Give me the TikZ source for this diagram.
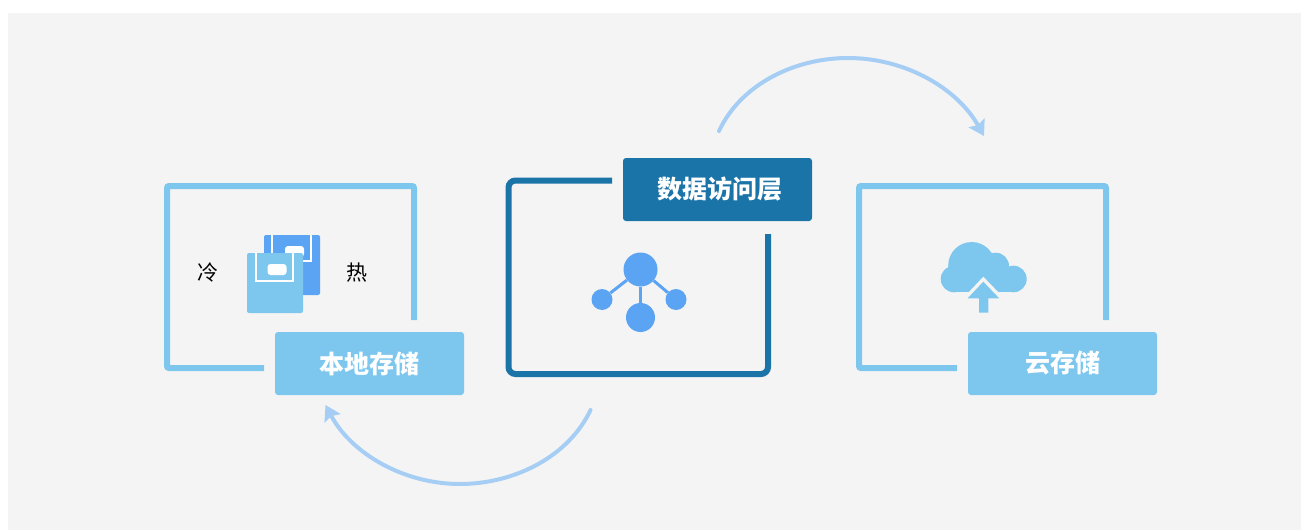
\documentclass[tikz,border=0pt]{standalone}
\usepackage{fontspec}
\setmainfont{Noto Sans CJK SC}
\usetikzlibrary{arrows.meta}
\definecolor{pagebg}{HTML}{F4F4F4}
\definecolor{sky}{HTML}{7DC7EE}
\definecolor{deep}{HTML}{1A74A8}
\definecolor{azure}{HTML}{5BA4F3}
\definecolor{arcblue}{HTML}{A6CEF5}
\tikzset{
  x=1pt,y=-1pt,
  tag/.style={rounded corners=3pt,minimum width=189pt,minimum height=63pt,inner sep=0pt,text=white,font=\fontsize{25}{25}\selectfont\bfseries},
  skytag/.style={tag,fill=sky},
  deeptag/.style={tag,fill=deep},
  skyframe/.style={draw=sky,line width=6pt,rounded corners=2pt},
  deepframe/.style={draw=deep,line width=6pt,rounded corners=7pt},
  flow/.style={draw=arcblue,line width=4pt,-{Stealth[length=15pt,width=18pt,inset=2.5pt]}},
  heat/.style={text=black,inner sep=0pt,font=\fontsize{21}{21}\selectfont},
  pill/.style={fill=white,rounded corners=3pt},
  disk/.style={rounded corners=2pt},
  hub/.style={fill=azure,circle,inner sep=0pt},
  spoke/.style={draw=azure,line width=3pt},
}
\begin{document}
\begin{tikzpicture}
\useasboundingbox (0,0) rectangle (1301,530);
\fill[white] (0,0) rectangle (1301,530);
\fill[pagebg] (8,13) rectangle (1301,530);

% left frame
\path[skyframe] (264,368) -- (167,368) -- (167,186) -- (414,186) -- (414,320);
\node[skytag] (local) at (369.5,363.5) {本地存储};
% right frame
\path[skyframe] (957,368) -- (859,368) -- (859,186) -- (1106,186) -- (1106,320);
\node[skytag] (cloud) at (1062.5,363.5) {云存储};
% centre frame
\path[deepframe] (612,180.5) -- (508.5,180.5) -- (508.5,374) -- (768,374) -- (768,234);
\node[deeptag] (access) at (717.5,189.5) {\hspace{4pt}数据访问层};

% cold / hot
\node[heat] (cold) at (207.5,273) {冷};
\node[heat] (hot) at (356.5,273) {热};

% floppy icons
\fill[azure,disk] (264,235) rectangle (320,295);
\draw[white,line width=2pt] (272,235) -- (272,261) -- (311,261) -- (311,235);
\fill[pill] (285,246) rectangle (304,257);
\fill[sky,disk] (247,253) rectangle (303,313);
\draw[white,line width=2pt] (255.5,253) -- (255.5,280.5) -- (292.5,280.5) -- (292.5,253);
\fill[pill] (267.5,264) rectangle (286.5,275);

% hub icon
\node[hub,minimum size=34pt] (hubtop) at (640.5,269.5) {};
\node[hub,minimum size=21pt] (hubleft) at (602,299.5) {};
\node[hub,minimum size=21pt] (hubright) at (676,299.5) {};
\node[hub,minimum size=29pt] (hubbottom) at (640.5,317.5) {};
\path[spoke] (hubtop) -- (hubleft);
\path[spoke] (hubtop) -- (hubright);
\path[spoke] (hubtop) -- (hubbottom);

% cloud icon
\fill[sky] (954,279) circle (13.3);
\fill[sky] (1013.4,279) circle (13.3);
\fill[sky] (971.7,265.5) circle (23.5);
\fill[sky] (995.7,266) circle (13.3);
\fill[sky] (954,270) rectangle (1013.4,292.3);
\fill[pagebg] (983.3,276.7) -- (998.5,292.4) -- (998.5,300) -- (968.5,300) -- (968.5,292.4) -- cycle;
\fill[sky] (983.3,281.7) -- (999.2,298.3) -- (988.3,298.3) -- (988.3,312.7) -- (979,312.7) -- (979,298.3) -- (967.6,298.3) -- cycle;

% flow arcs
\coordinate (upstart) at (719,131);
\coordinate (upend) at (984,136);
\coordinate (downstart) at (590.5,410);
\coordinate (downend) at (325.5,405);
\path[flow,line cap=round] (upstart) .. controls (741,84) and (795,58) .. (848,58) .. controls (905,58) and (957,88) .. (upend);
\path[flow,line cap=round] (downstart) .. controls (569,456) and (515,484) .. (460,484) .. controls (403,484) and (351,453) .. (downend);
\end{tikzpicture}
\end{document}
